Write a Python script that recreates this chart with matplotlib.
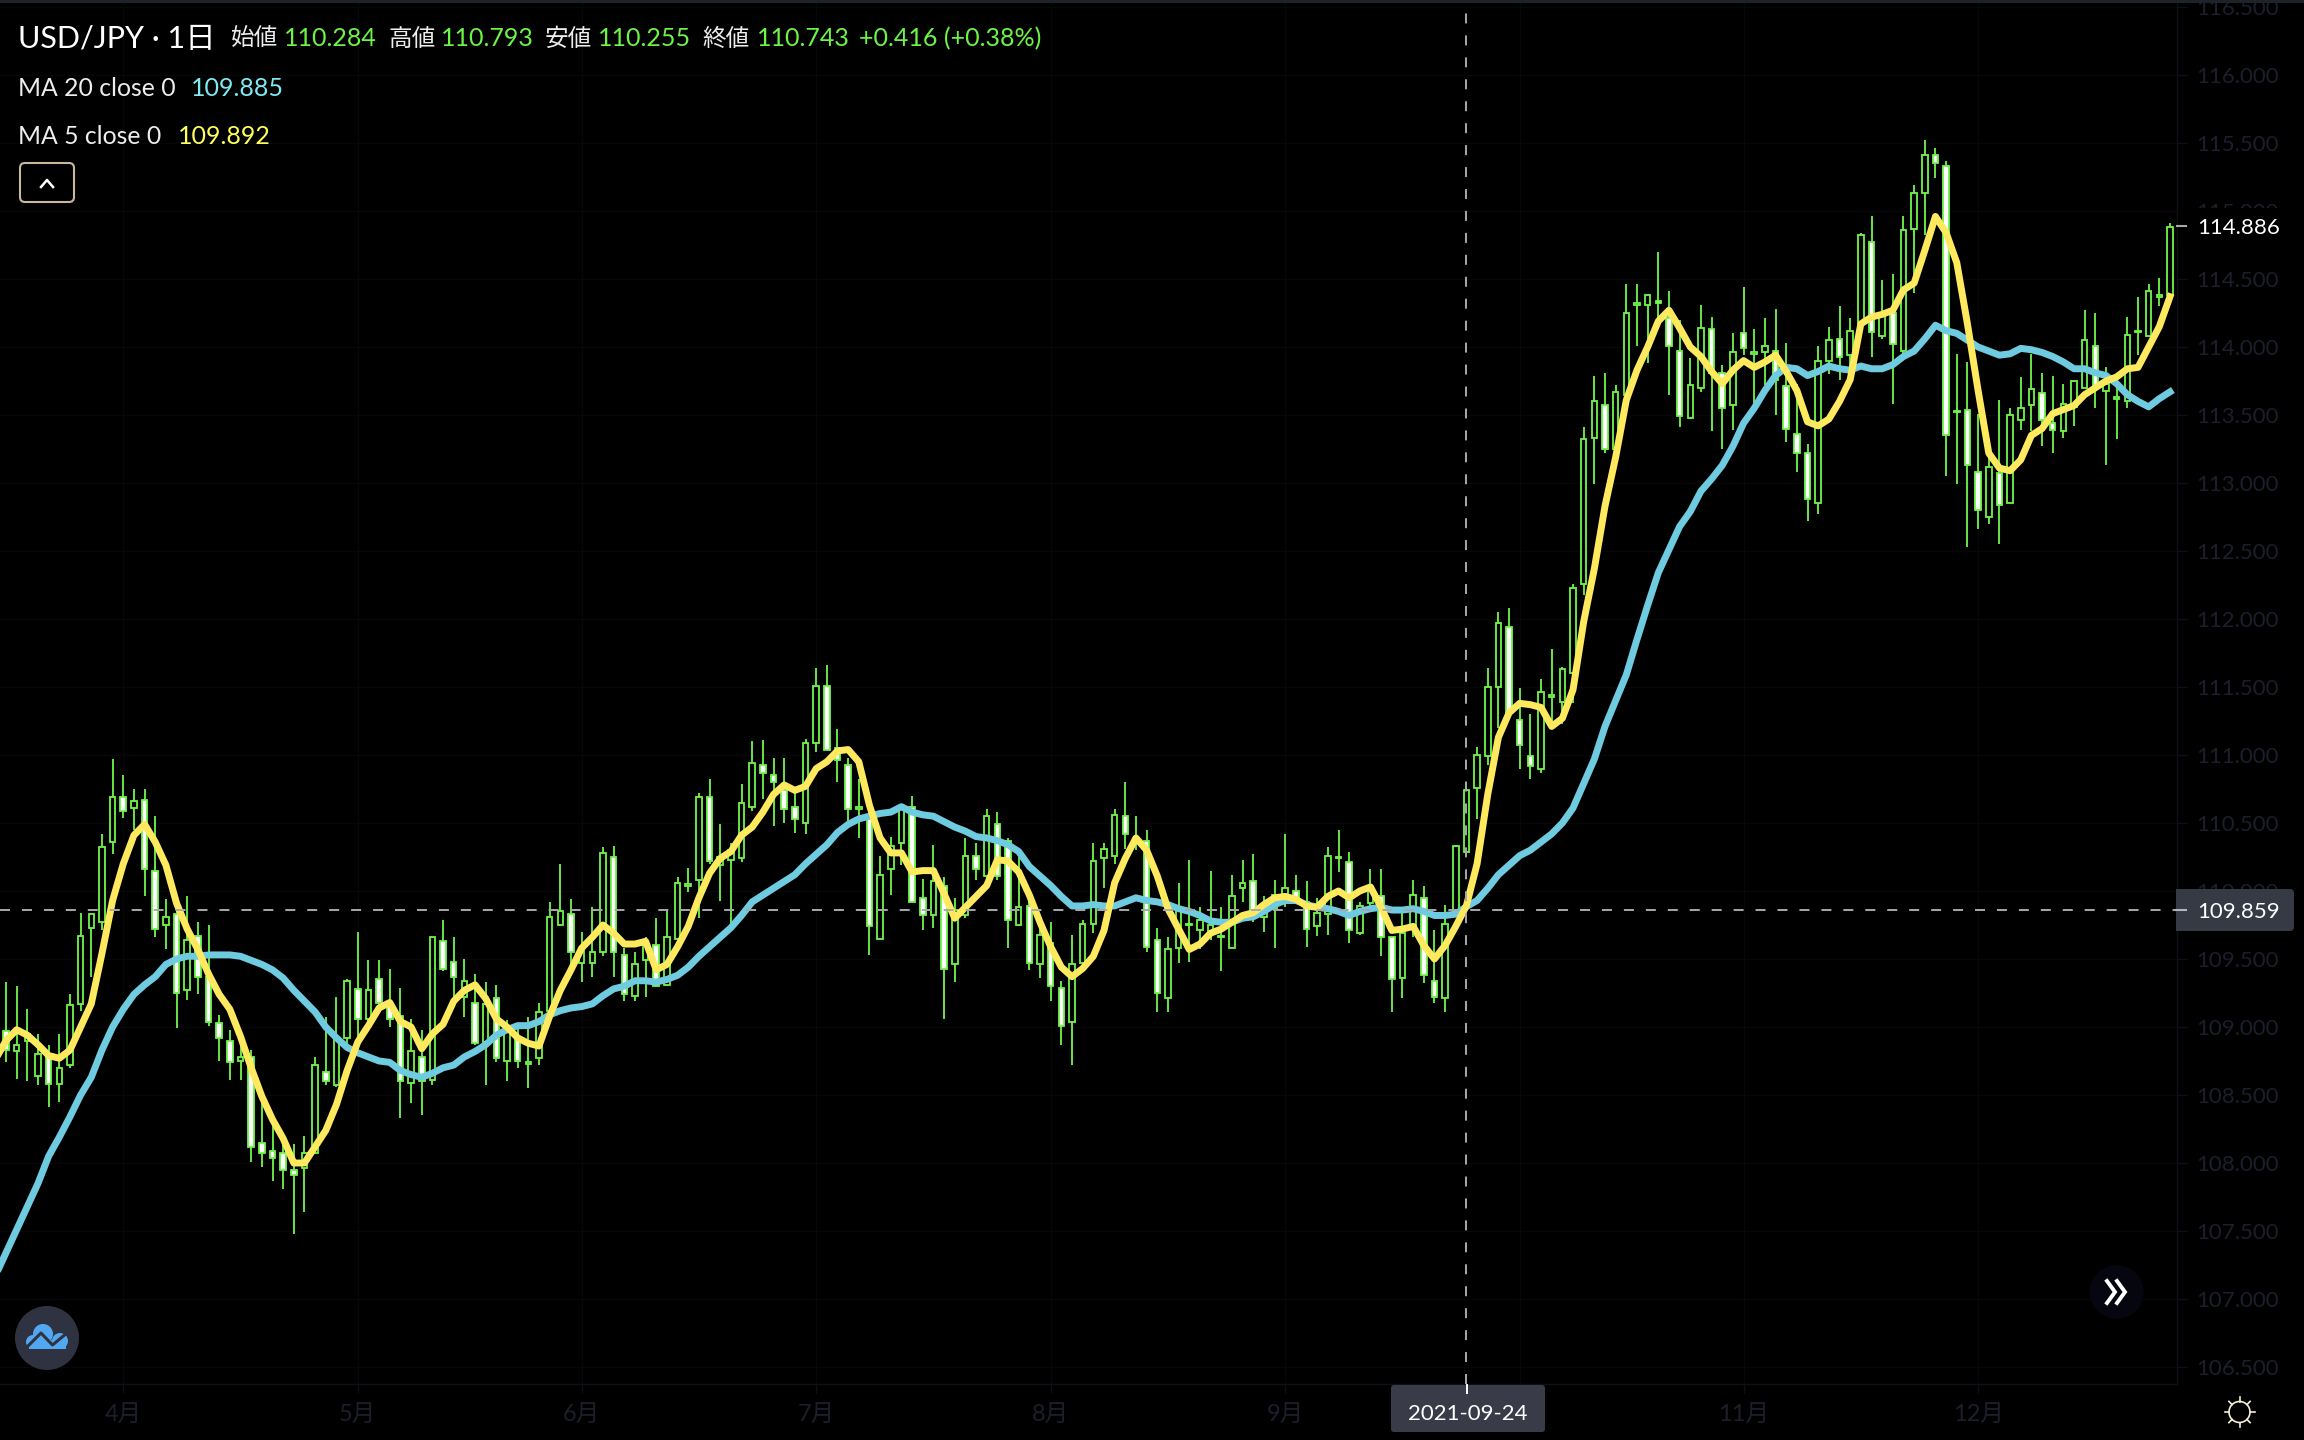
import numpy as np
import matplotlib
matplotlib.use("Agg")
import matplotlib.pyplot as plt
from matplotlib.patches import Rectangle, FancyBboxPatch, Circle

plt.rcParams['font.family'] = ['Lato', 'Noto Sans CJK JP', 'DejaVu Sans']
plt.rcParams['lines.scale_dashes'] = False

opens = [
108.97,108.82,108.90,108.64,108.78,108.58,108.72,109.17,109.73,109.77,
110.36,110.69,110.61,110.67,110.15,109.75,109.83,109.27,109.67,109.37,
109.03,108.90,108.75,108.78,108.15,108.09,108.07,107.95,107.96,108.07,
108.67,108.57,108.92,109.28,109.06,109.35,109.17,109.08,108.59,108.78,
108.61,109.63,109.48,109.22,109.18,108.89,109.21,108.75,108.92,108.73,
108.77,109.12,109.75,109.83,109.47,109.47,109.55,110.25,109.53,109.23,
109.49,109.60,109.31,109.65,110.04,110.08,110.69,110.19,110.23,110.24,
110.62,110.93,110.85,110.74,110.62,110.50,111.09,111.51,111.05,110.93,
110.60,110.55,109.65,110.16,110.35,110.62,109.95,109.82,110.04,109.46,
109.82,110.26,110.11,110.49,110.37,109.75,109.89,109.46,109.62,109.29,
109.04,109.47,109.76,110.24,110.26,110.55,110.36,110.37,109.64,109.21,
109.58,109.75,109.71,109.69,109.66,109.58,110.02,110.07,109.81,109.87,
109.98,110.00,109.92,109.74,109.83,110.24,110.21,109.69,109.91,109.96,
109.66,109.36,109.74,109.95,109.34,109.21,109.86,110.284,110.76,110.99,
111.50,111.94,111.26,110.99,110.90,111.43,111.39,111.60,112.26,113.33,
113.57,113.25,113.65,114.31,114.31,114.34,114.21,113.97,113.48,113.70,
114.13,113.81,113.57,114.10,113.95,113.96,113.97,113.71,113.36,113.22,
112.85,113.90,114.06,113.94,114.17,114.77,114.08,114.25,113.97,114.87,
115.13,115.41,115.33,113.52,113.54,113.08,112.75,113.07,112.85,113.46,
113.57,113.66,113.44,113.38,113.56,113.70,114.01,113.68,113.62,113.60,
114.11,114.08,114.37,114.38]

closes = [
108.83,108.87,108.95,108.80,108.58,108.70,109.16,109.67,109.83,110.32,
110.69,110.59,110.66,110.16,109.72,109.81,109.25,109.64,109.37,109.04,
108.92,108.74,108.78,108.12,108.07,108.04,107.95,107.91,108.07,108.72,
108.60,108.91,109.34,109.06,109.27,109.18,109.06,108.60,108.82,108.60,
109.66,109.43,109.37,109.34,108.88,109.17,108.77,108.98,108.75,108.74,
109.11,109.81,109.85,109.55,109.57,109.55,110.28,109.55,109.24,109.46,
109.60,109.30,109.66,110.06,110.05,110.69,110.22,110.25,110.30,110.65,
110.94,110.87,110.80,110.60,110.53,111.09,111.51,111.04,110.96,110.60,
110.62,109.74,110.12,110.33,110.62,109.92,109.82,110.07,109.43,109.86,
110.26,110.16,110.55,110.11,109.79,109.88,109.47,109.68,109.30,109.01,
109.46,109.76,110.22,110.31,110.56,110.42,110.39,109.59,109.25,109.57,
109.86,109.76,109.79,109.75,109.67,109.96,110.06,109.86,109.85,109.97,
110.02,109.93,109.72,109.84,110.26,110.25,109.71,109.89,110.00,109.66,
109.35,109.69,109.97,109.38,109.22,109.76,110.33,110.743,111.00,111.50,
111.97,111.31,111.07,110.92,111.46,111.44,111.63,112.23,113.32,113.60,
113.25,113.67,114.25,114.32,114.38,114.32,114.01,113.49,113.72,114.14,
113.81,113.55,113.96,113.99,113.96,114.01,113.76,113.40,113.22,112.88,
113.90,114.05,113.93,114.12,114.82,114.11,114.25,114.02,114.86,115.13,
115.41,115.35,113.35,113.53,113.13,112.80,113.12,112.84,113.50,113.55,
113.69,113.46,113.39,113.58,113.75,114.05,113.71,113.73,113.63,114.09,
114.12,114.41,114.38,114.886]

highs = [
109.33,109.30,109.13,108.95,108.87,108.95,109.24,109.84,109.84,110.42,
110.97,110.85,110.75,110.75,110.55,109.94,109.86,109.96,109.77,109.75,
109.09,108.98,108.89,108.83,108.46,108.29,108.14,108.14,108.20,108.78,
109.07,109.22,109.35,109.70,109.49,109.49,109.43,109.29,109.06,108.98,
109.66,109.79,109.66,109.50,109.39,109.33,109.31,109.05,109.00,109.07,
109.18,109.92,110.20,109.94,109.70,109.88,110.32,110.33,109.58,109.55,
109.66,109.80,109.85,110.10,110.17,110.72,110.82,110.49,110.35,110.79,
111.10,111.11,110.98,110.98,110.72,111.12,111.64,111.66,111.19,110.98,
110.82,110.68,110.26,110.40,110.62,110.70,110.09,110.34,110.10,109.95,
110.39,110.35,110.60,110.58,110.39,110.25,109.95,109.76,109.77,109.34,
109.68,109.79,110.35,110.35,110.60,110.80,110.55,110.45,109.73,109.66,
110.06,110.23,109.88,110.15,109.88,110.12,110.23,110.27,109.96,110.08,
110.42,110.12,110.07,109.95,110.32,110.45,110.29,109.92,110.16,110.16,
109.66,109.85,110.08,110.04,109.71,109.90,110.34,110.793,111.06,111.64,
112.05,112.08,111.49,111.30,111.56,111.78,111.65,112.26,113.41,113.79,
113.81,113.72,114.46,114.46,114.39,114.70,114.41,114.20,113.92,114.31,
114.22,113.87,114.10,114.44,114.13,114.21,114.28,114.03,113.73,113.29,
114.01,114.15,114.30,114.21,114.84,114.96,114.49,114.54,114.96,115.19,
115.52,115.46,115.37,113.95,113.89,113.51,113.19,113.61,113.55,113.78,
113.95,113.81,113.79,113.73,113.75,114.27,114.25,113.85,113.76,114.22,
114.37,114.46,114.51,114.91]

lows = [
108.74,108.62,108.60,108.57,108.41,108.45,108.70,109.12,109.37,109.71,
110.27,110.54,110.45,109.96,109.66,109.57,108.99,109.20,109.24,109.01,
108.75,108.61,108.61,108.01,107.97,107.87,107.81,107.48,107.64,108.07,
108.57,108.56,108.83,108.90,109.00,109.15,109.00,108.33,108.44,108.35,
108.57,109.41,109.21,109.07,108.87,108.57,108.74,108.60,108.70,108.55,
108.72,109.11,109.74,109.44,109.33,109.37,109.52,109.37,109.19,109.19,
109.22,109.30,109.30,109.64,109.99,109.80,110.20,109.93,109.75,110.21,
110.59,110.68,110.48,110.50,110.43,110.42,111.02,111.04,110.80,110.51,
110.39,109.53,109.65,109.97,110.19,109.92,109.71,109.73,109.06,109.33,
109.80,110.08,110.08,110.08,109.58,109.74,109.42,109.36,109.19,108.87,
108.72,109.42,109.69,110.02,110.20,110.31,110.30,109.55,109.11,109.11,
109.47,109.48,109.57,109.64,109.41,109.58,109.92,109.77,109.70,109.58,
109.88,109.91,109.59,109.67,109.68,110.14,109.62,109.68,109.88,109.52,
109.11,109.21,109.66,109.32,109.18,109.11,109.86,110.255,110.53,110.93,
111.20,111.29,110.90,110.82,110.87,111.23,111.23,111.38,112.18,112.99,
113.22,113.24,113.63,114.01,113.88,114.17,113.65,113.41,113.47,113.67,
113.38,113.25,113.39,113.94,113.52,113.72,113.50,113.30,113.08,112.72,
112.77,113.80,113.76,113.83,114.16,113.93,114.06,113.58,113.95,114.40,
114.82,115.24,113.05,112.99,112.53,112.66,112.70,112.55,112.85,113.39,
113.38,113.27,113.22,113.33,113.42,113.70,113.55,113.13,113.32,113.55,
113.94,114.07,114.30,114.38]

# first entry belongs to the bar just left of the visible window
ma5 = [108.76,
108.90,108.98,108.94,108.87,108.79,108.77,108.83,109.00,109.17,109.54,
109.93,110.20,110.41,110.49,110.36,110.19,109.91,109.72,109.57,109.39,
109.24,109.13,108.93,108.70,108.49,108.32,108.18,108.00,108.00,108.12,
108.24,108.43,108.68,108.89,109.01,109.14,109.18,109.04,109.00,108.84,
108.95,109.02,109.19,109.27,109.31,109.21,109.06,
109.00,108.92,108.88,108.86,109.08,109.27,109.42,109.58,109.66,109.75,
109.69,109.61,109.61,109.63,109.42,109.46,109.59,109.74,109.95,110.13,
110.24,110.29,110.41,110.47,110.58,110.71,110.78,110.74,110.77,110.90,
110.95,111.03,111.04,110.95,110.63,110.39,110.28,110.28,110.14,110.15,
110.15,109.98,109.80,109.88,109.96,110.04,110.23,
110.22,110.14,109.97,109.77,109.59,109.44,109.37,109.43,109.52,109.71,
110.06,110.24,110.39,110.30,110.11,109.87,109.72,109.57,109.61,109.69,
109.72,109.77,109.82,109.84,109.90,109.95,109.96,109.94,109.89,109.88,
109.96,110.00,109.95,110.00,110.03,109.88,109.71,109.72,109.74,109.60,
109.50,109.60,109.74,109.892,
110.20,110.71,111.13,111.31,111.38,111.37,111.35,111.21,111.27,111.48,111.98,
112.37,112.83,113.19,113.61,113.83,114.00,114.19,114.27,
114.14,114.00,113.93,113.82,113.73,113.83,113.90,113.85,113.89,113.94,
113.82,113.68,113.45,113.42,113.47,113.60,113.76,114.17,114.22,114.24,114.27,
114.42,114.47,114.71,114.96,114.84,114.62,114.17,113.68,113.22,113.11,
113.09,113.17,113.35,113.40,113.51,113.54,113.57,113.65,113.70,113.75,
113.78,113.84,113.85,114.00,114.15,114.37]

ma20 = [107.17,
107.34,107.51,107.68,107.85,108.05,108.19,108.34,108.50,108.63,108.83,
109.00,109.13,109.24,109.31,109.37,109.46,109.50,109.52,109.52,109.53,
109.53,109.53,109.52,109.49,109.46,109.42,109.36,109.27,109.19,109.11,
109.00,108.92,108.85,108.81,108.78,108.75,108.74,108.68,108.65,108.63,
108.66,108.70,108.72,108.78,108.82,108.87,108.94,
108.98,109.01,109.01,109.04,109.09,109.12,109.14,109.15,109.17,109.23,
109.28,109.30,109.34,109.34,109.33,109.35,109.38,109.44,109.52,109.59,
109.66,109.73,109.82,109.92,109.97,110.02,110.07,110.12,110.20,110.27,
110.34,110.43,110.49,110.53,110.55,110.57,110.58,110.62,110.58,110.56,
110.55,110.51,110.47,110.44,110.40,110.39,110.37,
110.34,110.29,110.18,110.11,110.04,109.96,109.89,109.89,109.90,109.89,
109.89,109.92,109.95,109.93,109.92,109.90,109.87,109.85,109.82,109.78,
109.77,109.77,109.80,109.81,109.85,109.90,109.93,109.93,109.90,109.88,
109.87,109.85,109.82,109.85,109.87,109.88,109.86,109.86,109.87,109.85,
109.82,109.82,109.83,109.885,
109.93,110.02,110.12,110.19,110.26,110.30,110.36,110.42,110.50,110.61,
110.79,110.97,111.21,111.40,111.59,111.85,112.10,112.34,
112.51,112.68,112.79,112.94,113.03,113.13,113.27,113.44,113.55,113.68,
113.79,113.85,113.84,113.79,113.82,113.86,113.84,113.83,113.86,113.84,
113.84,113.87,113.93,113.97,114.06,114.16,114.12,114.10,114.05,114.00,
113.97,113.94,113.95,113.99,113.98,113.96,113.93,113.89,113.84,113.84,113.81,
113.79,113.73,113.65,113.60,113.56,113.62,113.67]

price_ticks = [106.5,107.0,107.5,108.0,108.5,109.0,109.5,110.0,110.5,111.0,
               111.5,112.0,112.5,113.0,113.5,114.0,114.5,115.0,115.5,116.0,116.5]
month_pos = [11,33,54,76,98,120,142,163,185]
# October's label sits behind the crosshair's date tag, so none shows
month_labels = ['4月','5月','6月','7月','8月','9月','','11月','12月']
cross_bar = 137
cross_date = '2021-09-24'
cross_price = 109.859
last_price = 114.886

W, H = 2304, 1440
BAR_PX = 10.66
FIRST_PX = 6.0
PLOT_R, PLOT_B = 2177, 1384
GREEN = '#6ff64a'
GRID = '#070709'
DIM = '#1c1f2b'
CROSS = '#a8a8ae'

fig = plt.figure(figsize=(W/100, H/100), dpi=100, facecolor='black')
ax = fig.add_axes([0, (H-PLOT_B)/H, PLOT_R/W, PLOT_B/H], facecolor='black')
ax.set_xlim((0-FIRST_PX)/BAR_PX, (PLOT_R-FIRST_PX)/BAR_PX)
ax.set_ylim(116-(PLOT_B-75)/136, 116+75/136)

n = len(opens)
idx = np.arange(n)
o, c, hi, lo = map(np.array, (opens, closes, highs, lows))
up = c >= o
ax.vlines(idx, lo, hi, color=GREEN, lw=1.3, zorder=2)
ax.bar(idx, np.maximum(np.abs(c-o), 0.004), bottom=np.minimum(o, c), width=0.52,
       color=np.where(up, 'black', 'white').tolist(),
       edgecolor=GREEN, linewidth=1.3, zorder=3)

ma_idx = np.arange(-1, n)
ax.plot(ma_idx, ma20, color='#6ecbe0', lw=5.0, solid_joinstyle='round', zorder=4)
ax.plot(ma_idx, ma5, color='#ffe95f', lw=5.0, solid_joinstyle='round', zorder=5)

for line in (ax.axhline(cross_price, color=CROSS, lw=1.4),
             ax.axvline(cross_bar, color=CROSS, lw=1.4)):
    line.set_dashes((7.2, 8.6))
    line.set_dash_capstyle('butt')
    line.set_zorder(6)

ax.yaxis.tick_right()
ax.set_yticks(price_ticks)
ax.set_yticklabels([f'{p:.3f}' for p in price_ticks], color=DIM, fontsize=16)
ax.set_xticks(month_pos)
ax.set_xticklabels(month_labels, color=DIM, fontsize=17)
ax.tick_params(axis='y', length=7, width=0.9, color='#0e1015', pad=7)
ax.tick_params(axis='x', length=6.5, width=0.9, color='#0e1015', pad=8)
ax.grid(True, color=GRID, lw=1.0, zorder=0)
ax.set_axisbelow(True)
for s in ('top', 'left'):
    ax.spines[s].set_visible(False)
for s in ('right', 'bottom'):
    ax.spines[s].set_color('#0e1015')
    ax.spines[s].set_linewidth(1.0)

# overlay in image pixels for the interface furniture
ui = fig.add_axes([0, 0, 1, 1], facecolor='none')
ui.set_xlim(0, W)
ui.set_ylim(H, 0)
ui.axis('off')

ui.add_patch(Rectangle((0, 0), W, 2.5, color='#1e232a', lw=0))

def label(x, y, s, color, size=16, ha='left'):
    ui.text(x, y, s, color=color, fontsize=size, ha=ha, va='center_baseline')

WHITE = '#ededed'
VAL = '#6cf545'
label(18, 37, 'USD/JPY · 1日', 'white', 22)
for x, s in [(231, '始値'), (388, '高値'), (545, '安値'), (702, '終値')]:
    label(x, 37, s, WHITE, 17)
for x, s in [(284, '110.284'), (441, '110.793'), (598, '110.255'), (757, '110.743'),
             (859, '+0.416 (+0.38%)')]:
    label(x, 37, s, VAL, 18)
label(18, 86, 'MA 20 close 0', WHITE, 17.8)
label(191, 86, '109.885', '#80eaf2', 18)
label(18, 134, 'MA 5 close 0', WHITE, 17.8)
label(178, 134, '109.892', '#ffff5c', 18)

ui.add_patch(FancyBboxPatch((20, 163), 54, 39, boxstyle='round,pad=0,rounding_size=5',
                            fc='black', ec='#c9b99c', lw=1.5))
ui.plot([41, 47, 53], [187, 180, 187], color='white', lw=1.8)

# last price tag
ui.add_patch(Rectangle((2178, 208), 126, 38, color='black', lw=0))
ui.plot([2177, 2186], [226, 226], color='#a8a8a8', lw=1.5)
label(2197, 226, f'{last_price:.3f}', 'white', 16)

# crosshair price tag
ui.add_patch(FancyBboxPatch((2176, 889), 118, 42, boxstyle='round,pad=0,rounding_size=4',
                            fc='#363a45', ec='none'))
ui.add_patch(Rectangle((2176, 889), 8, 42, color='#363a45', lw=0))
ui.plot([2176, 2186], [910, 910], color='#b5b5bb', lw=1.5)
label(2197, 910, f'{cross_price:.3f}', 'white', 16)

# crosshair date tag
ui.add_patch(FancyBboxPatch((1391, 1385), 154, 47, boxstyle='round,pad=0,rounding_size=3',
                            fc='#393c48', ec='none'))
ui.plot([1467, 1467], [1385, 1393], color='white', lw=1.4)
label(1468, 1412, cross_date, 'white', 16, ha='center')

# cloud badge
ui.add_patch(Circle((47, 1338), 32, fc='#2f3341', ec='none'))
for cx, cy, r in [(43, 1334, 10), (60, 1341, 8), (33, 1342, 7)]:
    ui.add_patch(Circle((cx, cy), r, fc='#52a8f0', ec='none'))
ui.add_patch(Rectangle((29, 1340), 37, 9, fc='#52a8f0', ec='none'))
ui.plot([26, 41, 52.5, 67], [1348, 1333, 1345, 1333], color='#2f3341', lw=2.2,
        solid_joinstyle='round')

# scroll button
ui.add_patch(Circle((2116.6, 1292), 27, fc='#05060f', ec='none'))
for dx in (0, 10):
    ui.plot(np.array([2107, 2115, 2107])+dx, [1281, 1292, 1303], color='white', lw=2.8,
            solid_joinstyle='miter')

# theme icon
ui.add_patch(Circle((2239.5, 1412), 10.5, fc='none', ec='#f4efd6', lw=1.2))
for a in np.deg2rad(np.arange(0, 360, 45)):
    ui.plot([2239.5+10.5*np.cos(a), 2239.5+15*np.cos(a)],
            [1412+10.5*np.sin(a), 1412+15*np.sin(a)], color='#f4efd6', lw=1.2)

fig.savefig('out.png', dpi=100, facecolor='black')
